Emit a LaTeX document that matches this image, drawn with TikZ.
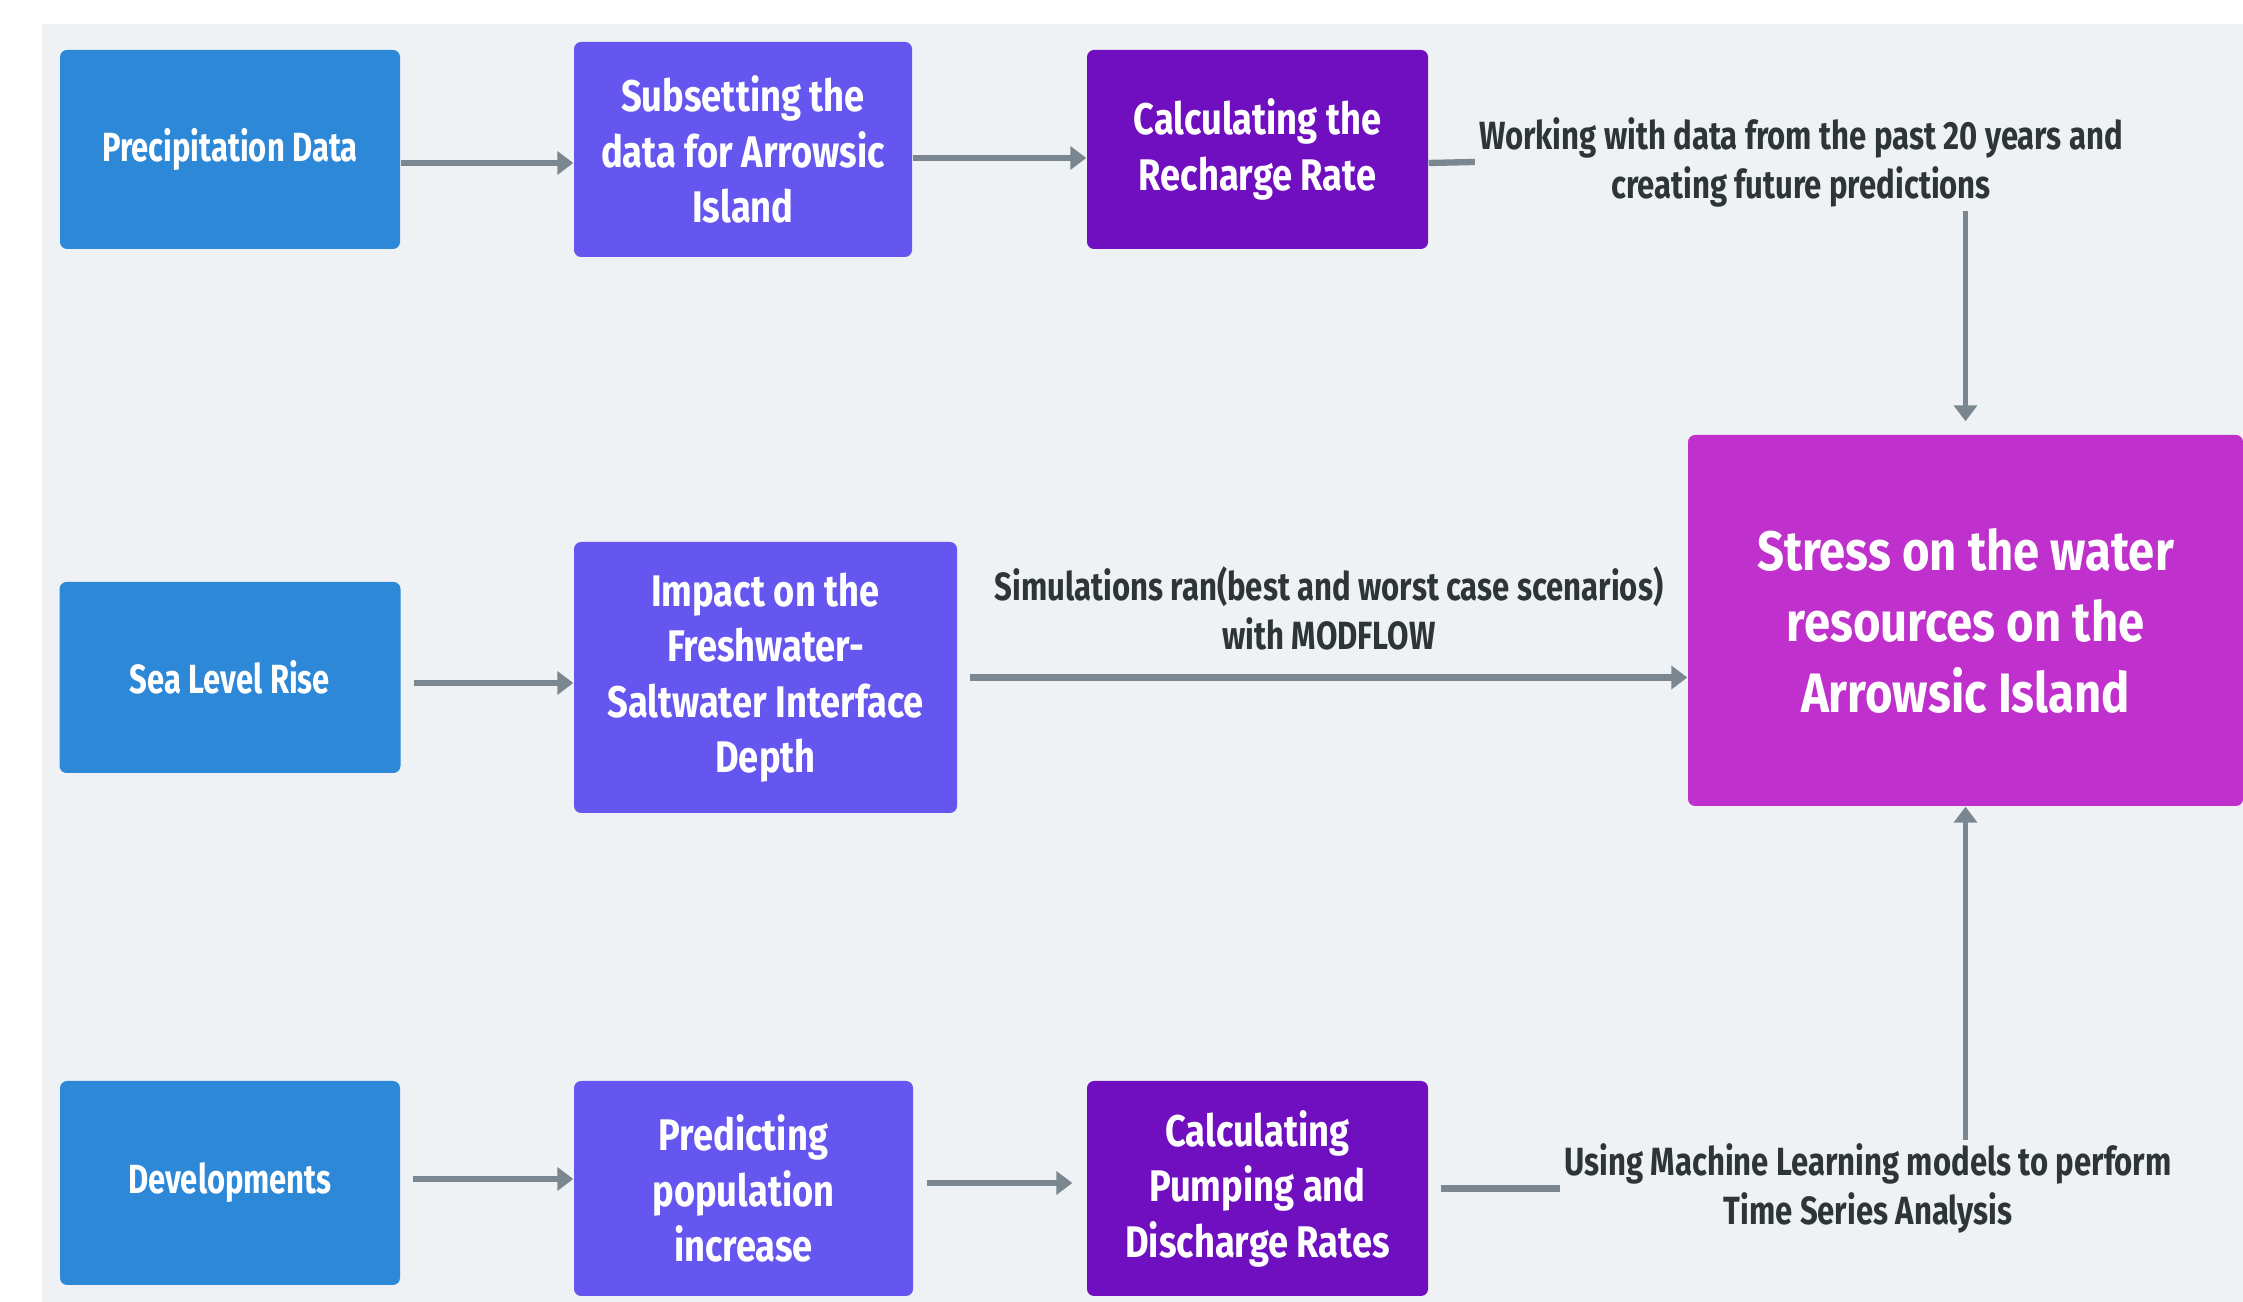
\documentclass[tikz,border=0pt]{standalone}
\usepackage{fontspec}
\setmainfont{Fira Sans}[FakeStretch=0.76]
\newfontfamily\stepfont{Fira Sans}[FakeStretch=0.82]
\newfontfamily\notefont{Fira Sans}[FakeStretch=0.79]
\newfontfamily\stressfont{Fira Sans}[FakeStretch=0.85]
\usetikzlibrary{arrows.meta}

\definecolor{bggray}{HTML}{EFF2F5}
\definecolor{srcblue}{HTML}{2D88D8}
\definecolor{stepviolet}{HTML}{6556F0}
\definecolor{calcpurple}{HTML}{6F0FBF}
\definecolor{stressmag}{HTML}{BF30CC}
\definecolor{linkgray}{HTML}{7A8790}
\definecolor{notetext}{HTML}{2E3538}

\begin{document}
\begin{tikzpicture}[
  box/.style={rectangle, rounded corners=2pt, text=white, align=center, inner sep=0pt,
    minimum width=3.40cm, font=\bfseries\fontsize{11.6}{15.4}\selectfont},
  stepbox/.style={box, font=\stepfont\bfseries\fontsize{12.6}{15.8}\selectfont},
  link/.style={draw=linkgray, line width=1.8pt, -{Triangle[length=1.6mm,width=2.3mm]}},
  stub/.style={draw=linkgray, line width=1.8pt},
  note/.style={text=notetext, align=center, inner sep=1pt, font=\notefont\bfseries\fontsize{11.2}{13.9}\selectfont}
]
  \useasboundingbox (0,0) rectangle (22.43,13.02);
  \fill[bggray] (0.42,0) rectangle (22.43,12.78);

  % top row: precipitation
  \node[box, fill=srcblue, minimum height=1.99cm] (precip) at (2.30,11.525) {Precipitation Data};
  \node[stepbox, fill=stepviolet, minimum width=3.38cm, minimum height=2.15cm] (subset) at (7.43,11.525) {Subsetting the\\data for Arrowsic\\Island};
  \node[stepbox, fill=calcpurple, minimum width=3.41cm, minimum height=1.99cm] (recharge) at (12.575,11.525) {Calculating the\\Recharge Rate};
  \node[note] (past) at (18.01,11.40) {Working with data from the past 20 years and\\creating future predictions};

  % middle row: sea level
  \node[box, fill=srcblue, minimum width=3.41cm, minimum height=1.91cm] (sea) at (2.30,6.245) {Sea Level Rise};
  \node[stepbox, fill=stepviolet, minimum width=3.83cm, minimum height=2.71cm] (interface) at (7.655,6.245) {Impact on the\\Freshwater-\\Saltwater Interface\\Depth};
  \node[note] (modflow) at (13.29,6.935) {Simulations ran(best and worst case scenarios)\\with MODFLOW};
  \node[box, fill=stressmag, minimum width=5.55cm, minimum height=3.71cm,
    font=\stressfont\bfseries\fontsize{15.8}{20.2}\selectfont] (stress) at (19.655,6.815) {Stress on the water\\resources on the\\Arrowsic Island};

  % bottom row: developments
  \node[box, fill=srcblue, minimum height=2.04cm] (devel) at (2.30,1.19) {Developments};
  \node[stepbox, fill=stepviolet, minimum width=3.39cm, minimum height=2.15cm] (popul) at (7.435,1.135) {Predicting\\population\\increase};
  \node[stepbox, fill=calcpurple, minimum width=3.41cm, minimum height=2.15cm] (pumping) at (12.575,1.135) {Calculating\\Pumping and\\Discharge Rates};
  \node[note] (mlearn) at (18.68,1.135) {Using Machine Learning models to perform\\Time Series Analysis};

  % connectors
  \draw[link] ([yshift=-1.35mm]precip.east) -- ([yshift=-1.35mm]subset.west);
  \draw[link] ([yshift=-0.85mm]subset.east) -- ([yshift=-0.85mm]recharge.west);
  \draw[stub] ([yshift=-1.35mm]recharge.east) -- (past.west);
  \draw[link, line width=1.6pt, shorten >=1.3mm] (stress.north |- past.south) -- (stress.north);

  \draw[link, shorten <=1.3mm] ([yshift=-0.55mm]sea.east) -- ([yshift=-0.55mm]interface.west);
  \draw[link, shorten <=1.2mm] (interface.east) -- (interface.east -| stress.west);

  \draw[link, shorten <=1.2mm] ([yshift=0.4mm]devel.east) -- ([yshift=0.4mm]devel.east -| popul.west);
  \draw[link, shorten <=1.3mm, shorten >=1.4mm] ([yshift=0.55mm]popul.east) -- ([yshift=0.55mm]pumping.west);
  \draw[stub, shorten <=1.2mm] (pumping.east) -- (mlearn.west);
  \draw[link, line width=1.6pt] (stress.south |- mlearn.north) -- (stress.south);
\end{tikzpicture}
\end{document}
